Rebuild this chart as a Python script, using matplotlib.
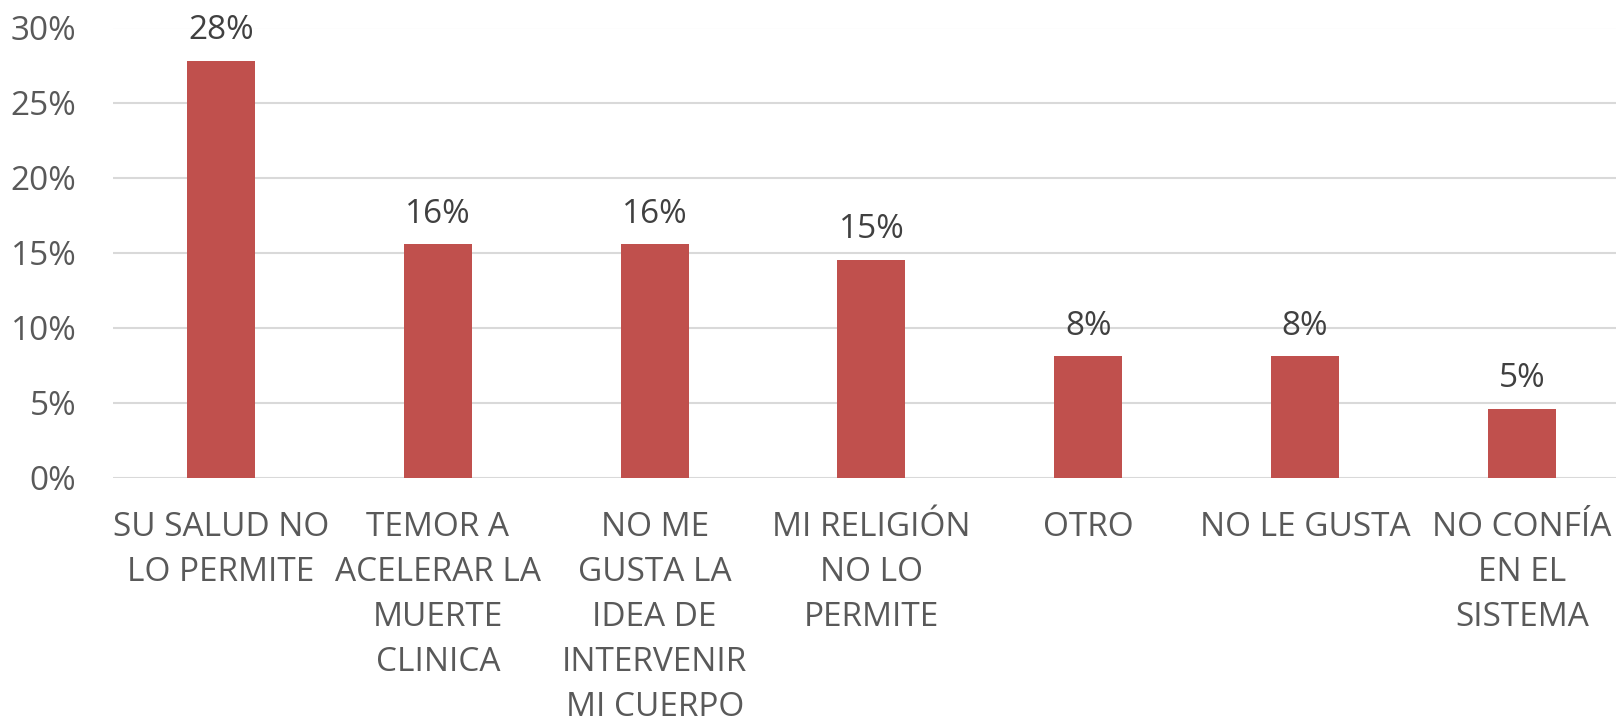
import matplotlib
matplotlib.use("Agg")
import matplotlib.pyplot as plt
from matplotlib.ticker import FuncFormatter, MultipleLocator

categories = ["SU SALUD NO\nLO PERMITE", "TEMOR A\nACELERAR LA\nMUERTE\nCLINICA",
              "NO ME\nGUSTA LA\nIDEA DE\nINTERVENIR\nMI CUERPO",
              "MI RELIGIÓN\nNO LO\nPERMITE", "OTRO", "NO LE GUSTA",
              "NO CONFÍA\nEN EL\nSISTEMA"]
values = [0.278, 0.1556, 0.1556, 0.1451, 0.0809, 0.0809, 0.046]
labels = ["28%", "16%", "16%", "15%", "8%", "8%", "5%"]

plt.rcParams['font.family'] = ["Open Sans", 'DejaVu Sans']

W, H = 1616, 721
fig = plt.figure(figsize=(W/100, H/100), dpi=100)
left, right, top, bottom = 112.6, 1630.3, 27.5, 477.7
ax = fig.add_axes([left/W, 1-bottom/H, (right-left)/W, (bottom-top)/H])

x = list(range(len(categories)))
ax.bar(x, values, width=0.314, color="#c0504d", zorder=3)
for xi, v, lab in zip(x, values, labels):
    ax.annotate(lab, (xi, v), xytext=(0, 15.5), textcoords="offset points",
                ha="center", va="baseline", fontsize=24, color="#404040")

ax.set_xlim(-0.5, len(categories)-0.5)
ax.set_ylim(0, 0.30)
ax.yaxis.set_major_locator(MultipleLocator(0.05))
ax.yaxis.set_major_formatter(FuncFormatter(lambda v, p: f"{round(v*100)}%"))
ax.set_xticks(x)
ax.set_xticklabels(categories, fontsize=24, color="#595959", linespacing=1.48)
ax.tick_params(axis='y', labelsize=24, labelcolor="#595959", length=0, pad=26)
ax.tick_params(axis='x', length=0, pad=24)
ax.grid(axis='y', color="#d9d9d9", linewidth=1.5, zorder=0)
for s in ax.spines.values():
    s.set_visible(False)

fig.savefig("out.png", dpi=100)
